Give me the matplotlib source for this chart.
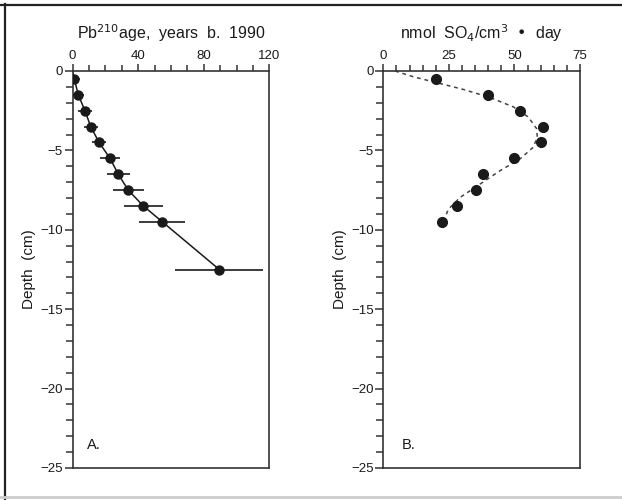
import matplotlib
matplotlib.use("Agg")
import matplotlib.pyplot as plt
from matplotlib.ticker import MultipleLocator
from matplotlib.lines import Line2D

plt.rcParams['font.family'] = ['Liberation Sans', 'DejaVu Sans']

# Panel A: Pb-210 age vs depth
age_depth = [-0.5, -1.5, -2.5, -3.5, -4.5, -5.5, -6.5, -7.5, -8.5, -9.5, -12.5]
age_years = [1.1, 3.5, 7.6, 11.1, 16.2, 22.9, 27.9, 34.0, 43.2, 54.8, 89.5]
age_err = [3.4, 3.7, 4.1, 4.3, 4.4, 6.3, 6.9, 9.3, 11.7, 14.0, 26.8]
age_curve_depth = [0.0] + age_depth
age_curve_x = [0.0] + age_years

# Panel B: sulfate reduction rate vs depth
rate_depth = [-0.5, -1.5, -2.5, -3.5, -4.5, -5.5, -6.5, -7.5, -8.5, -9.5]
rate_vals = [20.0, 40.0, 52.3, 61.0, 60.0, 49.7, 38.0, 35.2, 28.0, 22.2]
fit_depth = [0.0, -0.36, -1.16, -1.67, -2.26, -2.9, -3.64, -4.17, -4.8,
             -5.54, -6.28, -7.12, -7.97, -8.71, -9.24]
fit_vals = [4.5, 11.4, 30.5, 40.7, 49.6, 55.3, 58.5, 58.7, 57.2,
            52.1, 44.5, 36.9, 29.2, 24.8, 23.5]

W, H = 622, 500
fig = plt.figure(figsize=(W / 100, H / 100), dpi=100)
fig.patch.set_facecolor('white')

ink = '#1a1a1a'
spine_c = '#333333'

axA = fig.add_axes([72.5 / W, 32 / H, 196.8 / W, 397 / H])
axB = fig.add_axes([383.3 / W, 32 / H, 196.7 / W, 397 / H])


def style(ax, xmax, xmajor, xminor):
    ax.set_xlim(0, xmax)
    ax.set_ylim(-25, 0)
    ax.xaxis.set_major_locator(MultipleLocator(xmajor))
    ax.xaxis.set_minor_locator(MultipleLocator(xminor))
    ax.yaxis.set_major_locator(MultipleLocator(5))
    ax.yaxis.set_minor_locator(MultipleLocator(1))
    ax.xaxis.tick_top()
    ax.tick_params(axis='x', which='major', direction='out', length=5, width=1.1,
                   color=spine_c, labelsize=9.5, pad=1.5, labelcolor=ink)
    ax.tick_params(axis='x', which='minor', direction='out', length=4, width=1.1,
                   color=spine_c)
    ax.tick_params(axis='y', which='major', direction='out', length=6, width=1.1,
                   color=spine_c, labelsize=9.5, pad=1, labelcolor=ink)
    ax.tick_params(axis='y', which='minor', direction='out', length=5, width=1.1,
                   color=spine_c)
    for s in ax.spines.values():
        s.set_color(spine_c)
        s.set_linewidth(1.2)
    ax.set_ylabel('Depth  (cm)', fontsize=11, color=ink, labelpad=3)


style(axA, 120, 40, 10)
style(axB, 75, 25, 5)

# Panel A drawing
axA.plot(age_curve_x, age_curve_depth, color=ink, lw=1.1, zorder=2)
axA.errorbar(age_years, age_depth, xerr=age_err, fmt='o', color=ink,
             ms=6.5, ecolor=ink, elinewidth=1.2, capsize=0, zorder=3)
axA.text(0.075, 0.04, 'A.', transform=axA.transAxes, fontsize=10.5, color=ink,
         ha='left', va='bottom')

# Panel B drawing
axB.plot(fit_vals, fit_depth, color='#444444', lw=1.1, ls=(0, (2.5, 2.5)), zorder=2)
axB.plot(rate_vals, rate_depth, 'o', color=ink, ms=7, zorder=3)
axB.text(0.095, 0.04, 'B.', transform=axB.transAxes, fontsize=10.5, color=ink,
         ha='left', va='bottom')

# Titles
fig.text(171 / W, 1 - 33 / H, 'Pb$^{210}$age,  years  b.  1990', ha='center',
         va='center', fontsize=11.5, color=ink)
fig.text(481.7 / W, 1 - 33 / H, 'nmol  SO$_4$/cm$^3$  \u2022  day', ha='center',
         va='center', fontsize=11.5, color=ink)

# Figure frame lines
fig.add_artist(Line2D([0, 1], [1 - 5 / H, 1 - 5 / H], transform=fig.transFigure,
                      color='#222222', lw=1.6))
fig.add_artist(Line2D([5 / W, 5 / W], [0, 1 - 4 / H], transform=fig.transFigure,
                      color='#222222', lw=1.6))
fig.add_artist(Line2D([0, 1], [3 / H, 3 / H], transform=fig.transFigure,
                      color='#cccccc', lw=2))

fig.savefig('out.png', dpi=100, facecolor='white')
